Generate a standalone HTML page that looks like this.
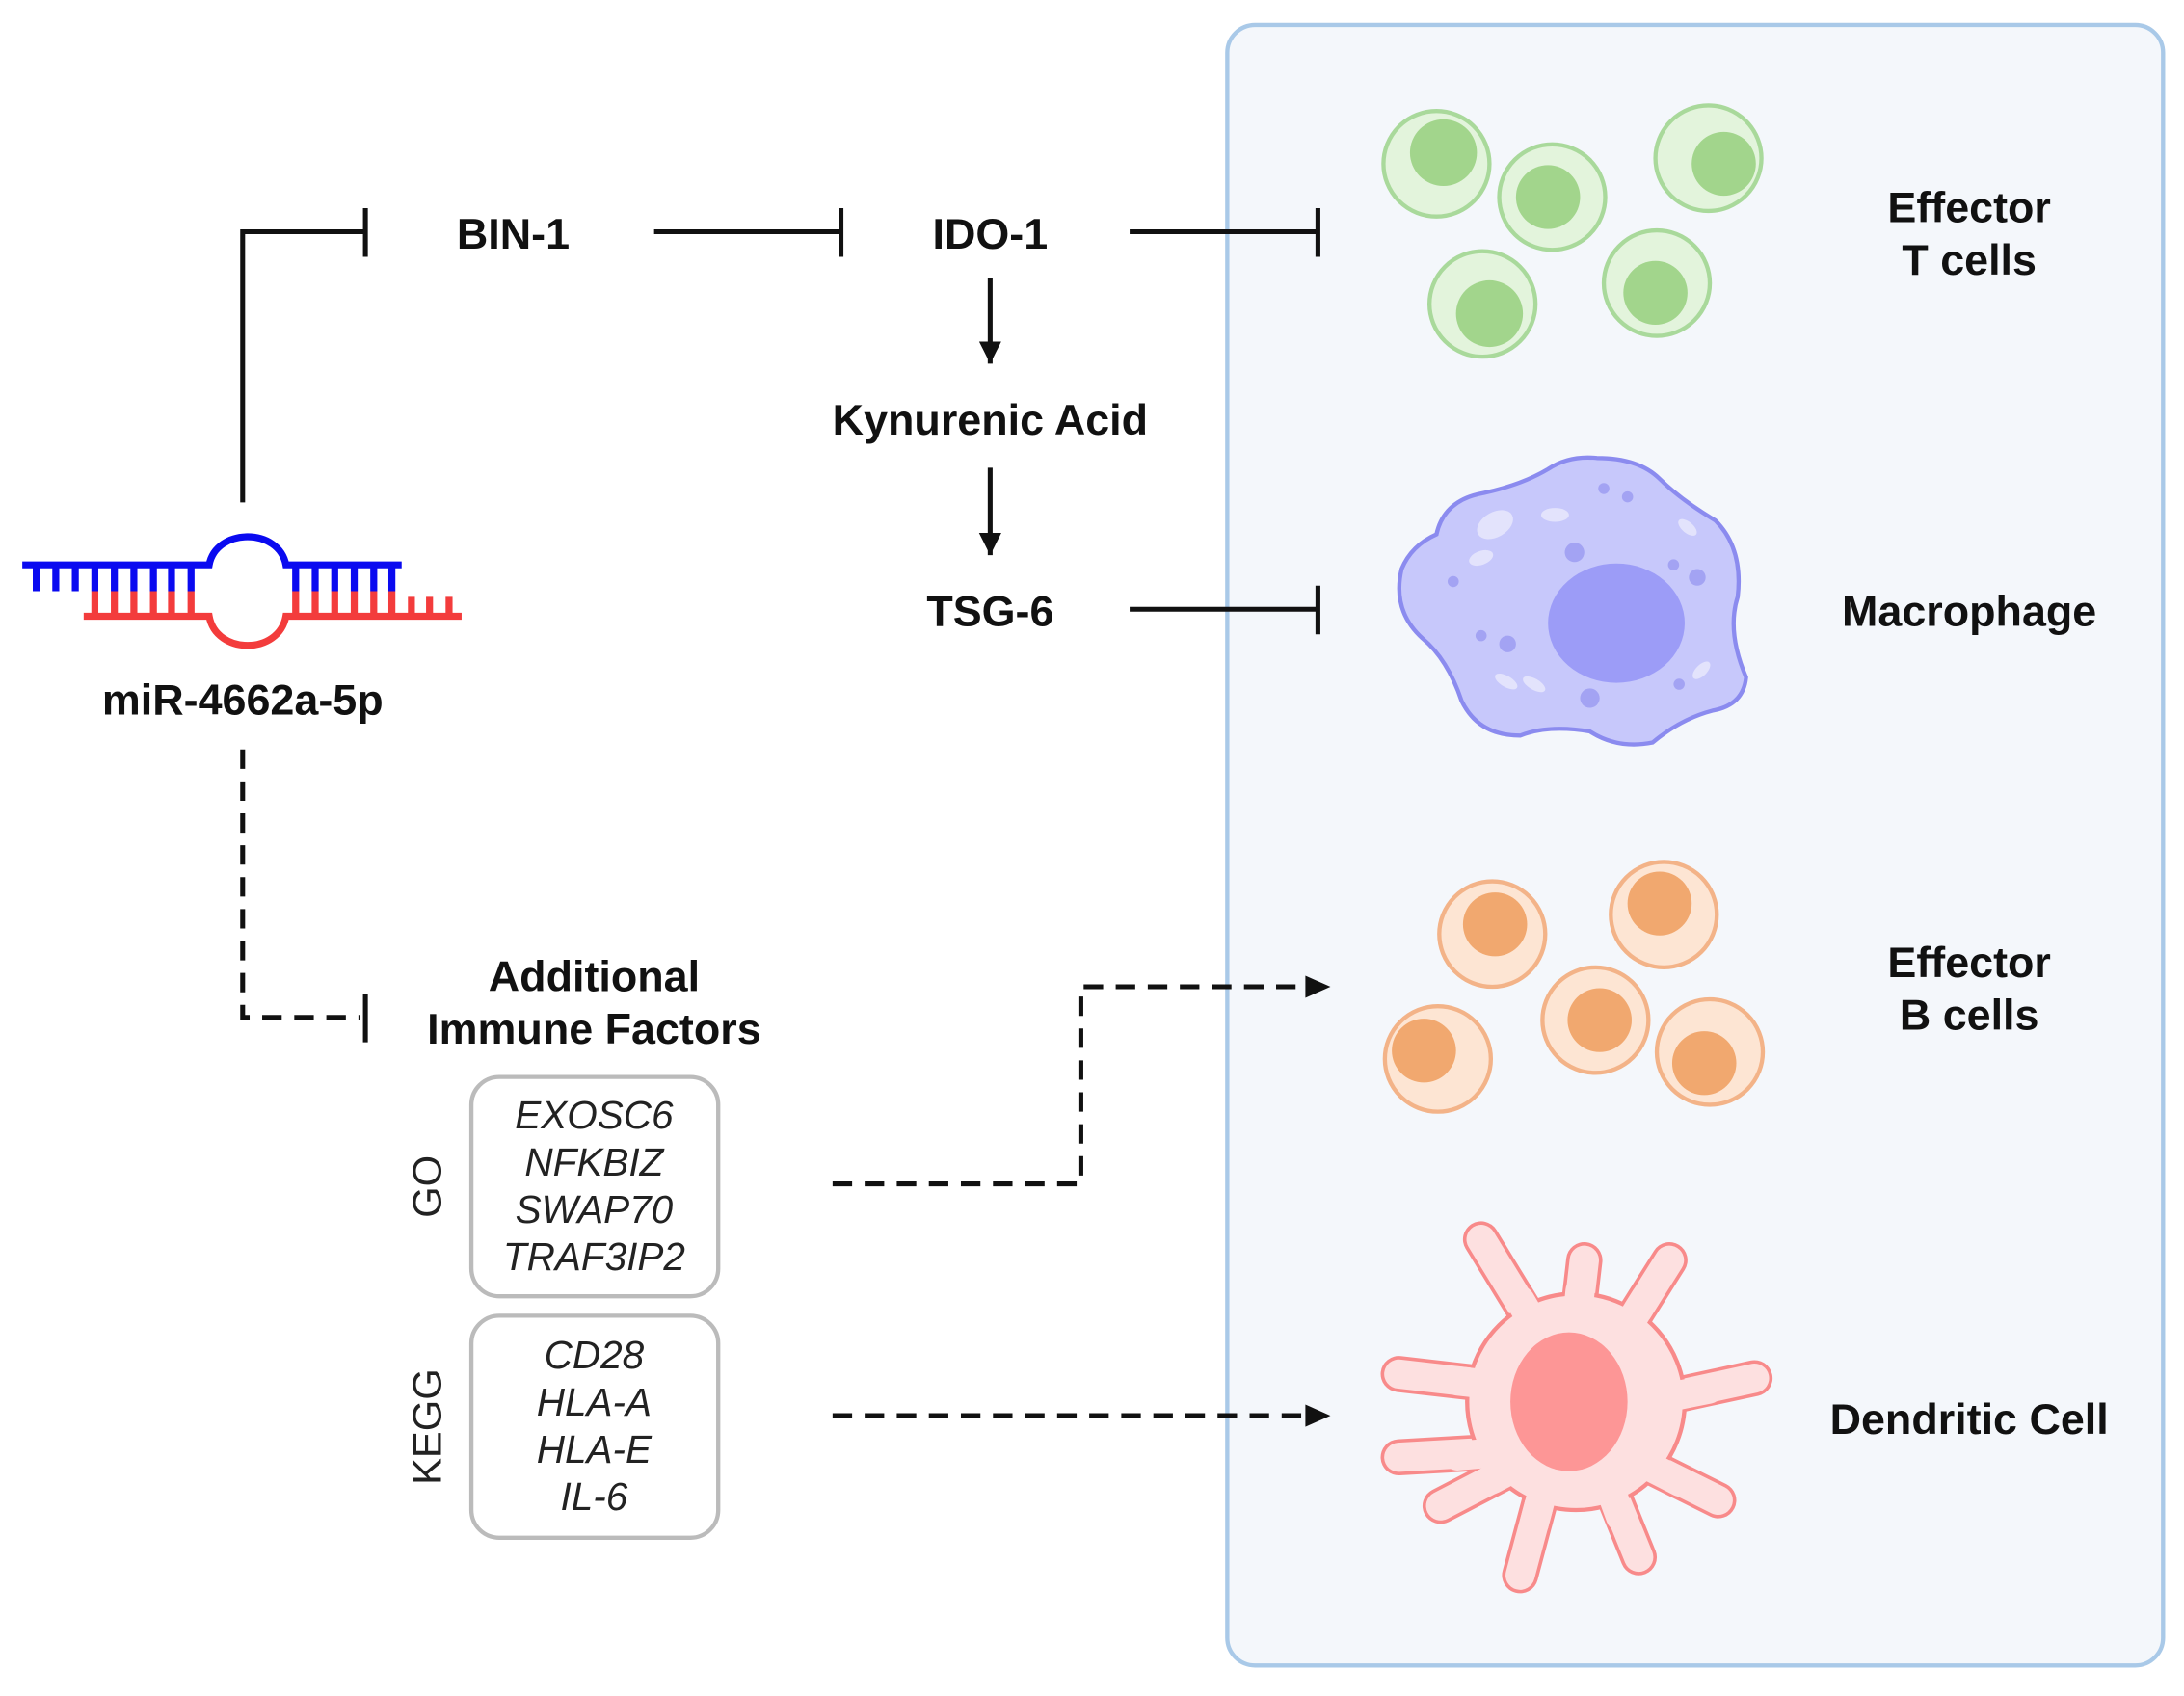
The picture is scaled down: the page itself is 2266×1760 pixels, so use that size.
<!DOCTYPE html>
<html><head><meta charset="utf-8"><style>
html,body{margin:0;padding:0;background:#fff;}
svg{display:block;}
text{font-family:"Liberation Sans",Arial,sans-serif;}
.b{font-weight:bold;font-size:31px;fill:#111;text-anchor:middle;}
.i{font-style:italic;font-size:28px;fill:#222;text-anchor:middle;}
</style></head><body>
<svg width="2266" height="1760" viewBox="0 0 1566 1222" preserveAspectRatio="none" xmlns="http://www.w3.org/2000/svg">
<defs>
<marker id="ar2" markerWidth="20" markerHeight="20" refX="16" refY="8" orient="auto" markerUnits="userSpaceOnUse"><path d="M0,0 L16,8 L0,16 z" fill="#111"/></marker>
</defs>
<rect width="1566" height="1222" fill="#fff"/>
<rect x="880" y="18" width="671" height="1182" rx="20" fill="#f4f7fb" stroke="#a9c9e8" stroke-width="3"/>

<!-- miRNA -->
<g stroke-width="5" fill="none">
<path d="M16,407 H150 C155,380 200,380 205,407 H288" stroke="#0a0af0"/>
<g stroke="#0a0af0">
<path d="M26,407V426M40,407V426M54,407V426M68,407V426M82,407V426M96,407V426M110,407V426M123,407V426M137,407V426M212,407V426M226,407V426M240,407V426M254,407V426M268,407V426M281,407V426"/>
</g>
<path d="M60,444 H150 C155,472 200,472 205,444 H331" stroke="#f33c3c"/>
<g stroke="#f33c3c">
<path d="M68,444V426M82,444V426M96,444V426M110,444V426M123,444V426M137,444V426M212,444V426M226,444V426M240,444V426M254,444V426M268,444V426M281,444V426M295,444V430M308,444V430M322,444V430"/>
</g>
</g>
<text x="174" y="515" class="b">miR-4662a-5p</text>

<!-- connectors -->
<g stroke="#111" stroke-width="3.5" fill="none">
<path d="M174,362 V167 H262"/><path d="M262,150 V185"/>
<path d="M469,167 H603"/><path d="M603,150 V185"/>
<path d="M810,167 H945"/><path d="M945,150 V185"/>
<path d="M810,439 H945"/><path d="M945,422 V457"/>
<path d="M710,200 V262" marker-end="url(#ar2)"/>
<path d="M710,337 V400" marker-end="url(#ar2)"/>
<path d="M174,540 V733 H258" stroke-dasharray="14,9"/><path d="M262,716 V751"/>
<path d="M597,853 H775 V711 H940" stroke-dasharray="14,9"/>
<path d="M597,1020 H940" stroke-dasharray="14,9"/>
</g>
<path d="M936,703 L954,711 L936,719 z" fill="#111"/>
<path d="M936,1012 L954,1020 L936,1028 z" fill="#111"/>

<text x="368" y="179" class="b">BIN-1</text>
<text x="710" y="179" class="b">IDO-1</text>
<text x="710" y="313" class="b">Kynurenic Acid</text>
<text x="710" y="451" class="b">TSG-6</text>
<text x="426" y="714" class="b">Additional</text>
<text x="426" y="752" class="b">Immune Factors</text>

<rect x="338" y="776" width="177" height="158" rx="20" fill="#fff" stroke="#bbb" stroke-width="3"/>
<text x="426" y="813" class="i">EXOSC6</text>
<text x="426" y="847" class="i">NFKBIZ</text>
<text x="426" y="881" class="i">SWAP70</text>
<text x="426" y="915" class="i">TRAF3IP2</text>
<rect x="338" y="948" width="177" height="160" rx="20" fill="#fff" stroke="#bbb" stroke-width="3"/>
<text x="426" y="986" class="i">CD28</text>
<text x="426" y="1020" class="i">HLA-A</text>
<text x="426" y="1054" class="i">HLA-E</text>
<text x="426" y="1088" class="i">IL-6</text>
<text transform="translate(316,855) rotate(-90)" font-size="29" fill="#222" text-anchor="middle">GO</text>
<text transform="translate(316,1028) rotate(-90)" font-size="29" fill="#222" text-anchor="middle">KEGG</text>

<!-- right labels -->
<text x="1412" y="160" class="b">Effector</text>
<text x="1412" y="198" class="b">T cells</text>
<text x="1412" y="451" class="b">Macrophage</text>
<text x="1412" y="704" class="b">Effector</text>
<text x="1412" y="742" class="b">B cells</text>
<text x="1412" y="1033" class="b">Dendritic Cell</text>

<!-- T cells -->
<g stroke="#a9d99b" stroke-width="3" fill="#e3f4dc">
<circle cx="1030" cy="118" r="38"/><circle cx="1113" cy="142" r="38"/><circle cx="1225" cy="114" r="38"/><circle cx="1063" cy="219" r="38"/><circle cx="1188" cy="204" r="38"/>
</g>
<g fill="#a2d58c">
<circle cx="1035" cy="110" r="24"/><circle cx="1110" cy="142" r="23"/><circle cx="1236" cy="118" r="23"/><circle cx="1068" cy="226" r="24"/><circle cx="1187" cy="211" r="23"/>
</g>

<!-- Macrophage -->
<path d="M1145,330 Q1175,330 1190,345 Q1205,360 1230,375 Q1250,395 1246,430 Q1238,455 1252,488 Q1250,508 1228,512 Q1205,518 1185,535 Q1160,540 1140,527 Q1110,522 1090,530 Q1060,530 1048,505 Q1038,475 1020,460 Q998,440 1005,410 Q1012,393 1030,385 Q1035,362 1060,356 Q1090,350 1110,338 Q1125,328 1145,330 z" fill="#c7c8fb" stroke="#8b8bef" stroke-width="3"/>
<ellipse cx="1159" cy="449" rx="49" ry="43" fill="#9c9cf7"/>
<g fill="#e3e3fc"><ellipse cx="1072" cy="378" rx="14" ry="9" transform="rotate(-30 1072 378)"/><ellipse cx="1115" cy="371" rx="10" ry="5"/><ellipse cx="1062" cy="402" rx="9" ry="5" transform="rotate(-20 1062 402)"/><ellipse cx="1210" cy="380" rx="8" ry="4" transform="rotate(40 1210 380)"/><ellipse cx="1080" cy="491" rx="9" ry="4" transform="rotate(30 1080 491)"/><ellipse cx="1100" cy="493" rx="9" ry="4" transform="rotate(30 1100 493)"/><ellipse cx="1220" cy="483" rx="8" ry="4" transform="rotate(-45 1220 483)"/></g>
<g fill="#a3a3f3"><circle cx="1129" cy="398" r="7"/><circle cx="1150" cy="352" r="4"/><circle cx="1167" cy="358" r="4"/><circle cx="1200" cy="407" r="4"/><circle cx="1217" cy="416" r="6"/><circle cx="1042" cy="419" r="4"/><circle cx="1062" cy="458" r="4"/><circle cx="1081" cy="464" r="6"/><circle cx="1140" cy="503" r="7"/><circle cx="1204" cy="493" r="4"/></g>

<!-- B cells -->
<g stroke="#f3b388" stroke-width="3" fill="#fde5d3">
<circle cx="1070" cy="673" r="38"/><circle cx="1193" cy="659" r="38"/><circle cx="1144" cy="735" r="38"/><circle cx="1031" cy="763" r="38"/><circle cx="1226" cy="758" r="38"/>
</g>
<g fill="#f1a86f">
<circle cx="1072" cy="666" r="23"/><circle cx="1190" cy="651" r="23"/><circle cx="1147" cy="735" r="23"/><circle cx="1021" cy="757" r="23"/><circle cx="1222" cy="766" r="23"/>
</g>

<!-- Dendritic cell -->
<g stroke-linecap="round" fill="none">
<g stroke="#f88a8a" stroke-width="26">
<path d="M1115,980 L1062,893"/><path d="M1130,960 L1136,908"/><path d="M1155,975 L1197,908"/><path d="M1180,1010 L1258,993"/><path d="M1170,1050 L1232,1081"/><path d="M1150,1060 L1175,1122"/><path d="M1110,1060 L1090,1135"/><path d="M1100,1050 L1033,1085"/><path d="M1090,1045 L1003,1050"/><path d="M1090,1000 L1003,990"/>
</g>
<g stroke="#fde0e0" stroke-width="21">
<path d="M1115,980 L1062,893"/><path d="M1130,960 L1136,908"/><path d="M1155,975 L1197,908"/><path d="M1180,1010 L1258,993"/><path d="M1170,1050 L1232,1081"/><path d="M1150,1060 L1175,1122"/><path d="M1110,1060 L1090,1135"/><path d="M1100,1050 L1033,1085"/><path d="M1090,1045 L1003,1050"/><path d="M1090,1000 L1003,990"/>
</g>
</g>
<circle cx="1130" cy="1010" r="78" fill="#fde0e0" stroke="#f88a8a" stroke-width="3"/>
<g stroke="#fde0e0" stroke-width="21" stroke-linecap="round">
<path d="M1115,980 L1090,937"/><path d="M1130,960 L1133,930"/><path d="M1155,975 L1180,935"/><path d="M1180,1010 L1225,1001"/><path d="M1170,1050 L1205,1068"/><path d="M1150,1060 L1162,1093"/><path d="M1110,1060 L1100,1098"/><path d="M1100,1050 L1070,1066"/><path d="M1090,1045 L1045,1049"/><path d="M1090,1000 L1045,995"/>
</g>
<ellipse cx="1125" cy="1010" rx="42" ry="50" fill="#fd9696"/>
</svg>
</body></html>
